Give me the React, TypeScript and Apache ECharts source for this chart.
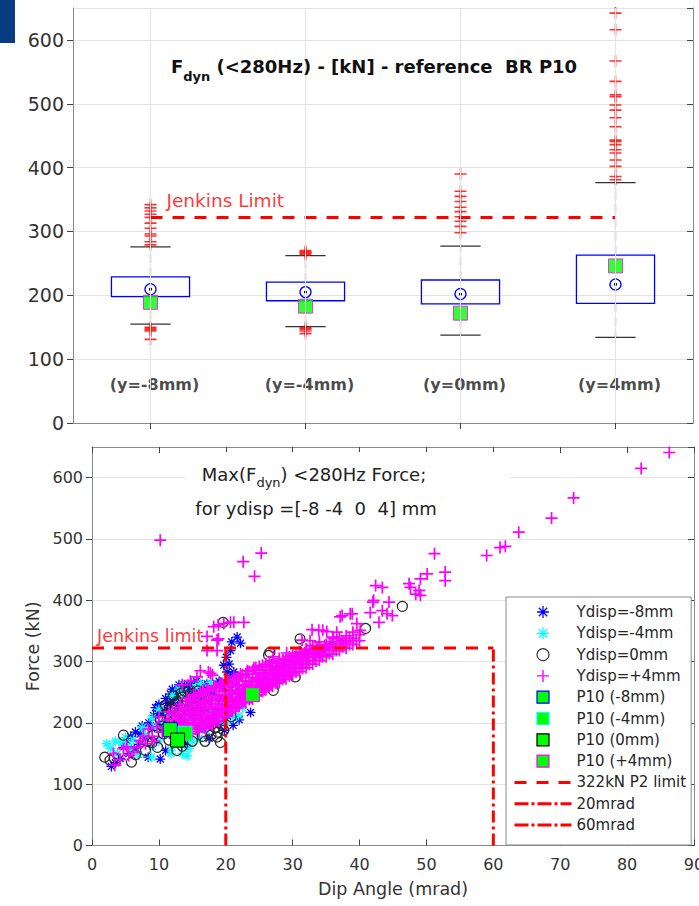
import React, { useEffect, useRef } from 'react';
import * as echarts from 'echarts';

const FONT = 'DejaVu Sans';

// ---------- Top panel (box plot) ----------
const positions = ['(y=-8mm)', '(y=-4mm)', '(y=0mm)', '(y=4mm)'];
const whiskerLow = [155, 151, 137.5, 134];
const boxQ1 = [198, 191.5, 186.5, 187.5];
const boxQ3 = [229, 220.5, 224, 263];
const whiskerHigh = [276, 262, 277, 376.5];
const medians = [209.5, 205, 202, 217];
const p10Values = [189, 183, 172, 246];
const outliersM8 = [342, 337, 332, 327, 322, 313, 305, 296, 293, 284, 279, 150, 148, 146, 144, 131];
const outliersM4 = [270, 268, 266, 264, 149, 147, 144, 140];
const outliers0 = [390, 363, 355, 347, 338, 331, 323, 316, 308, 298];
const outliersP4 = [642, 616, 567, 535, 514, 511, 498, 490, 478, 464, 443, 441, 436, 428, 423, 412, 402, 386, 381];
const jenkinsLimit = 322;

// ---------- Bottom panel (scatter) ----------
const ydispM8 = [
  [2.9, 129], [3.5, 135], [4.2, 142], [4.7, 160], [5.2, 171], [5.5, 150], [6.3, 158], [7.2, 182], [7, 165], [8.4, 144],
  [8, 175], [9.2, 212], [9, 190], [10.2, 141], [10, 198], [10.8, 220], [11.7, 247], [11.3, 232], [12.2, 238], [13.2, 256],
  [12.8, 228], [14, 250], [14.6, 258], [15.2, 252], [16, 258], [17, 252], [18, 248], [15.5, 238], [17.5, 236], [19, 240],
  [13.5, 205], [15, 212], [16.5, 218], [18.5, 222], [12, 180], [14, 165], [11, 155], [16, 190], [19.6, 258], [20.4, 269],
  [20.2, 283], [21.2, 283], [19.7, 294], [20.1, 307], [20.7, 318], [20.9, 332], [21.7, 340], [22.2, 330], [20.5, 296], [21.5, 262],
  [20.7, 274], [21.9, 274], [22.6, 245], [21.1, 196], [20.7, 212], [23.7, 217], [22, 205], [19.8, 188], [18.8, 200], [17.5, 175],
  [10.5, 215], [11.5, 225], [12.5, 245], [13.8, 262], [12, 255], [10, 230], [9.5, 225], [11, 240], [14.8, 265], [13, 262],
  [16.5, 262], [18.2, 260], [17.2, 264], [8.5, 200], [7.5, 195], [6.5, 185], [5.8, 178], [9.8, 215], [15.6, 268], [19, 268],
];
const ydispM4 = [
  [2.2, 166], [2.8, 158], [3.8, 150], [4.5, 168], [5.5, 160], [6.2, 172], [7, 148], [8.9, 144], [8, 180], [9.5, 192],
  [10, 170], [10.8, 200], [11.5, 215], [12.5, 222], [13, 240], [14, 248], [14.7, 226], [15.5, 258], [16.2, 264], [17.7, 266],
  [17, 255], [12, 160], [13.5, 150], [14.5, 158], [16, 175], [17, 188], [18, 198], [19, 206], [20, 200], [21.2, 209],
  [21.9, 212], [22.5, 225], [19.5, 232], [18, 218], [20.5, 245], [16, 235], [11, 185], [9, 162], [6, 152], [15, 170],
  [13, 255], [12, 245], [10, 222], [9, 208], [7.5, 192], [5, 176], [3.5, 170], [14.2, 146], [11.8, 150],
];
const ydisp0 = [
  [1.9, 144], [2.7, 139], [3.3, 143], [4.7, 180], [5.9, 136], [6.5, 148], [8, 155], [9, 168], [10.7, 182], [11.7, 209],
  [10.5, 195], [12, 222], [12.8, 235], [13.5, 242], [14.2, 236], [15, 248], [15.8, 252], [16.8, 250], [14.5, 222], [13, 200],
  [15.5, 215], [17, 228], [16, 205], [18.1, 199], [17.5, 188], [12.7, 155], [13.5, 162], [15, 170], [16.5, 178], [18.7, 177],
  [19.7, 188], [19.2, 168], [11.5, 172], [9.8, 160], [19.6, 364], [26.4, 310], [26.6, 315], [27.1, 253], [30.4, 275], [31.1, 337],
  [31.6, 299], [35.4, 318], [36.6, 332], [40.9, 354], [46.4, 390], [20.8, 210], [18.5, 238], [11, 228], [12.2, 244], [13.8, 252],
  [11.2, 215], [11.8, 225], [12.4, 232], [13, 218], [13.6, 228], [14.1, 212], [14.8, 240], [15.3, 228], [12.6, 210], [13.3, 248],
  [14.4, 254], [15.6, 240], [16.4, 232], [17.3, 240], [16.2, 222], [11.6, 198], [12.3, 205], [10.2, 205], [10.9, 190], [17.6, 200],
  [18.4, 192], [19, 205], [18.8, 185], [17.8, 180], [16.9, 170], [19.4, 196], [9.2, 180], [8.3, 170], [14.3, 180], [15.2, 190],
];
const ydispP4 = [
  // sparse lower-left tail
  [3.4, 131], [3.2, 150], [4.2, 140], [4.7, 158], [5.2, 161], [5.5, 147], [6.2, 152], [7.2, 171], [7.7, 178], [8, 166],
  [8.4, 190], [9.7, 194], [9, 178], [10.5, 185], [11.2, 205], [10, 210], [11.5, 218], [12, 196], [6.8, 160], [9.3, 170],
  // dense band
  [12, 178], [12, 193], [12, 206], [12, 219], [12.5, 186], [12.5, 200], [12.5, 214], [13, 182], [13, 197], [13, 211],
  [13, 225], [13.5, 190], [13.5, 204], [13.5, 219], [14, 185], [14, 200], [14, 215], [14, 230], [14.5, 192], [14.5, 207],
  [14.5, 222], [14.5, 236], [15, 183], [15, 197], [15, 211], [15, 225], [15, 239], [15.5, 190], [15.5, 204], [15.5, 218],
  [15.5, 232], [15.5, 245], [16, 186], [16, 201], [16, 215], [16, 229], [16, 243], [16.5, 194], [16.5, 208], [16.5, 222],
  [16.5, 236], [16.5, 249], [17, 191], [17, 205], [17, 218], [17, 233], [17, 247], [17.5, 198], [17.5, 212], [17.5, 226],
  [17.5, 240], [17.5, 253], [18, 196], [18, 210], [18, 225], [18, 238], [18, 252], [18.5, 203], [18.5, 217], [18.5, 231],
  [18.5, 245], [18.5, 257], [19, 203], [19, 216], [19, 230], [19, 244], [19, 258], [19.5, 210], [19.5, 223], [19.5, 237],
  [19.5, 251], [19.5, 263], [20, 211], [20, 222], [20, 235], [20, 246], [20, 258], [20, 268], [20.5, 216], [20.5, 228],
  [20.5, 240], [20.5, 252], [20.5, 264], [21, 219], [21, 230], [21, 242], [21, 254], [21, 266], [21.5, 224], [21.5, 236],
  [21.5, 248], [21.5, 260], [21.5, 272], [22, 227], [22, 238], [22, 250], [22, 262], [22, 274], [22.5, 233], [22.5, 244],
  [22.5, 256], [22.5, 268], [22.5, 278], [23, 233], [23, 244], [23, 256], [23, 268], [23, 280], [23.5, 238], [23.5, 250],
  [23.5, 262], [23.5, 274], [23.5, 284], [24, 239], [24, 250], [24, 262], [24, 274], [24, 286], [24.5, 244], [24.5, 256],
  [24.5, 268], [24.5, 280], [24.5, 290], [25, 246], [25, 258], [25, 270], [25, 282], [25, 292], [25.5, 251], [25.5, 263],
  [25.5, 275], [25.5, 286], [25.5, 294], [26, 254], [26, 265], [26, 276], [26, 287], [26, 296], [26.5, 259], [26.5, 270],
  [26.5, 281], [26.5, 291], [26.5, 299], [27, 260], [27, 271], [27, 282], [27, 293], [27, 301], [27.5, 265], [27.5, 276],
  [27.5, 287], [27.5, 297], [28, 266], [28, 277], [28, 288], [28, 298], [28, 305], [28.5, 271], [28.5, 282], [28.5, 293],
  [28.5, 302], [29, 272], [29, 283], [29, 294], [29, 304], [29.5, 277], [29.5, 288], [29.5, 299], [29.5, 308], [30, 278],
  [30, 289], [30, 300], [30, 310], [30.5, 283], [30.5, 294], [30.5, 305], [30.5, 313], [31, 284], [31, 295], [31, 306],
  [31, 315], [31.5, 289], [31.5, 300], [31.5, 311], [32, 290], [32, 301], [32, 312], [32, 320], [32.5, 296], [32.5, 307],
  [32.5, 317], [33, 296], [33, 307], [33, 318], [33, 326], [33.5, 301], [33.5, 312], [33.5, 322], [34, 302], [34, 313],
  [34, 324], [34, 332], [34.5, 308], [34.5, 319], [35, 308], [35, 318], [35, 328], [35.5, 313], [35.5, 324], [36, 312],
  [36, 322], [36, 332], [36, 340], [36.5, 318], [36.5, 328], [37, 318], [37, 328], [37, 338], [37.5, 324], [37.5, 334],
  [38, 322], [38, 332], [38, 342], [38.5, 328], [38.5, 338], [39, 328], [39, 338], [39, 348], [39.5, 334], [40, 334],
  [40, 344],
  // dense band, in-between marks
  [12.3, 188], [12.8, 207], [13.3, 194], [13.8, 214], [14.3, 196], [14.8, 218], [15.3, 200], [15.8, 222], [16.3, 205], [16.8, 227],
  [17.3, 209], [17.8, 231], [18.3, 214], [18.8, 236], [19.3, 220], [19.8, 241], [20.3, 226], [20.8, 247], [21.3, 233], [21.8, 253],
  [22.3, 240], [22.8, 260], [23.3, 247], [23.8, 266], [24.3, 253], [24.8, 272], [25.3, 260], [25.8, 279], [26.3, 266], [26.8, 285],
  [27.3, 272], [27.8, 290], [28.3, 278], [28.8, 296], [29.3, 284], [29.8, 302], [30.3, 290], [30.8, 308], [31.3, 296], [31.8, 314],
  [32.3, 302], [32.8, 318], [33.3, 308], [33.8, 322], [34.3, 314], [34.8, 326], [13.2, 230], [14.2, 240], [15.2, 246], [16.2, 250],
  [17.2, 255], [18.2, 260], [19.2, 262], [20.2, 270], [21.2, 276], [22.2, 280], [23.2, 285], [24.2, 290], [16.8, 192], [17.8, 200],
  [18.8, 208], [19.8, 215], [20.8, 222], [21.8, 230], [22.8, 236], [23.8, 242], [24.8, 250], [25.8, 256], [26.8, 262], [27.8, 270],
  [28.8, 276], [29.8, 282],
  // upper-left excursions
  [13.5, 262], [14.7, 268], [15.7, 275], [16.2, 285], [17.4, 283], [18, 278], [16.7, 254], [17.7, 281], [19.2, 265], [17.2, 318],
  [18.7, 318], [18.9, 337], [17.2, 341], [18.7, 335], [18.2, 357], [18.9, 360], [19.7, 362], [20.7, 364], [21.2, 364], [22.7, 364],
  [10.2, 498], [22.6, 463], [24.3, 439], [25.3, 477],
  // upper right
  [27.1, 308], [29.1, 314], [31.1, 316], [31.4, 335], [32.6, 334], [32.1, 320], [35.6, 329], [34.1, 310], [28.6, 302], [33.9, 351],
  [34.5, 351], [32.9, 352], [36.6, 348], [36.1, 338], [35.1, 349], [37.1, 373], [37.4, 375], [38.9, 378], [37.9, 334], [38.6, 378],
  [39.6, 362], [40.1, 351], [41.6, 380], [42.9, 364], [43.4, 383], [44.1, 378], [44.9, 375], [42, 397], [42.1, 400], [44.4, 397],
  [42.4, 424], [43.4, 421], [47.4, 427], [47.6, 421], [49.1, 435], [50.1, 443], [48.4, 410], [49.1, 408], [48.9, 416], [51.2, 476],
  [52.8, 446], [52.8, 432], [59, 473], [61, 486], [61.8, 488], [63.8, 511], [68.7, 534], [72, 567], [82.1, 615], [86.3, 641],
];
const p10Points = [[11.7, 189], [13.9, 183], [12.8, 172], [24, 246]];
const limitLine = [[0, 322], [60, 322]];
const mrad20Line = [[20, 0], [20, 322]];
const mrad60Line = [[60, 0], [60, 322]];

const axisGray = '#8a8a8a';
const labelColor = '#333333';
const gridColor = '#e4e4e4';

const PLUS = 'path://M5,0V10M0,5H10';
const STAR = 'path://M5,0V10M0,5H10M1.5,1.5L8.5,8.5M1.5,8.5L8.5,1.5';
const SQUARE = 'path://M0,0H10V10H0Z';
const CIRCLE = 'path://M10,5A5,5,0,1,1,0,5A5,5,0,1,1,10,5Z';

export default function App() {
  const ref = useRef<HTMLDivElement>(null);
  useEffect(() => {
    if (!ref.current) return;
    const chart = echarts.init(ref.current, null, { renderer: 'svg' });

    const boxData = positions.map((_, i) => [i, whiskerLow[i], boxQ1[i], boxQ3[i], whiskerHigh[i], medians[i]]);
    const outlierData: number[][] = [];
    [outliersM8, outliersM4, outliers0, outliersP4].forEach((arr, i) => arr.forEach((v) => outlierData.push([i, v])));

    const catAxis = (pos: 'bottom' | 'top') => ({
      type: 'category',
      gridIndex: 0,
      position: pos,
      data: positions,
      boundaryGap: true,
      axisLine: { show: true, lineStyle: { color: axisGray, width: 1 } },
      axisTick: { show: true, alignWithLabel: true, inside: true, length: 6, lineStyle: { color: '#444' } },
      axisLabel: { show: false },
      splitLine: { show: false },
    });
    const valAxisX = (pos: 'bottom' | 'top') => ({
      type: 'value',
      gridIndex: 1,
      position: pos,
      min: 0,
      max: 90,
      interval: 10,
      axisLine: { show: true, onZero: false, lineStyle: { color: axisGray, width: 1 } },
      axisTick: { show: true, inside: true, length: 6, lineStyle: { color: '#444' } },
      axisLabel: pos === 'bottom'
        ? { show: true, fontSize: 16, color: labelColor, margin: 11, fontFamily: FONT }
        : { show: false },
      splitLine: { show: false },
      ...(pos === 'bottom'
        ? {
            name: 'Dip Angle (mrad)',
            nameLocation: 'middle',
            nameGap: 34,
            nameTextStyle: { fontSize: 17.5, color: labelColor, fontFamily: FONT },
          }
        : {}),
    });
    const valAxisY = (grid: number, pos: 'left' | 'right', fontSize: number) => ({
      type: 'value',
      gridIndex: grid,
      position: pos,
      min: 0,
      max: 650,
      interval: 100,
      axisLine: { show: true, onZero: false, lineStyle: { color: axisGray, width: 1 } },
      axisTick: { show: true, inside: pos === 'right', length: 6, lineStyle: { color: '#444' } },
      axisLabel: pos === 'left'
        ? { show: true, fontSize, color: labelColor, margin: 9, fontFamily: FONT, showMaxLabel: false }
        : { show: false },
      splitLine: pos === 'left' ? { show: true, lineStyle: { color: gridColor, width: 1 } } : { show: false },
      ...(grid === 1 && pos === 'left'
        ? {
            name: 'Force (kN)',
            nameLocation: 'middle',
            nameGap: 46,
            nameTextStyle: { fontSize: 17.5, color: labelColor, fontFamily: FONT },
          }
        : {}),
    });

    const scatterBottom = (name: string, data: number[][], symbol: string, size: number, color: string, border: string, bw: number, z = 2) => ({
      name,
      type: 'scatter',
      xAxisIndex: 2,
      yAxisIndex: 2,
      data,
      symbol,
      symbolSize: size,
      itemStyle: { color, borderColor: border, borderWidth: bw, opacity: 1 },
      emphasis: { disabled: true },
      z,
    });

    const option: any = {
      animation: false,
      textStyle: { fontFamily: FONT },
      grid: [
        { left: 73, right: 6, top: 8, height: 415, show: false, containLabel: false, outerBoundsMode: 'none' },
        { left: 92, right: 5, top: 447, height: 398.5, show: false, containLabel: false, outerBoundsMode: 'none' },
      ],
      xAxis: [catAxis('bottom'), catAxis('top'), valAxisX('bottom'), valAxisX('top')],
      yAxis: [valAxisY(0, 'left', 19), valAxisY(0, 'right', 19), valAxisY(1, 'left', 16), valAxisY(1, 'right', 16)],
      legend: {
        orient: 'vertical',
        left: 506,
        top: 597,
        padding: [7, 5, 12, 7],
        itemGap: 5.3,
        itemWidth: 57,
        itemHeight: 12,
        backgroundColor: '#ffffff',
        borderColor: '#8a8a8a',
        borderWidth: 1,
        selectedMode: false,
        textStyle: { fontFamily: FONT, fontSize: 15, color: '#262626', lineHeight: 16 },
        data: [
          { name: 'Ydisp=-8mm', icon: STAR, itemStyle: { color: 'rgba(0,0,0,0)', borderColor: '#0000ff', borderWidth: 1.3 } },
          { name: 'Ydisp=-4mm', icon: STAR, itemStyle: { color: 'rgba(0,0,0,0)', borderColor: '#00ffff', borderWidth: 1.3 } },
          { name: 'Ydisp=0mm', icon: CIRCLE, itemStyle: { color: 'rgba(0,0,0,0)', borderColor: '#333333', borderWidth: 1.2 } },
          { name: 'Ydisp=+4mm', icon: PLUS, itemStyle: { color: 'rgba(0,0,0,0)', borderColor: '#ff00ff', borderWidth: 1.4 } },
          { name: 'P10 (-8mm)', icon: SQUARE, itemStyle: { color: '#00ff00', borderColor: '#0000ff', borderWidth: 1.2 } },
          { name: 'P10 (-4mm)', icon: SQUARE, itemStyle: { color: '#00ff00', borderColor: '#00ffff', borderWidth: 1.2 } },
          { name: 'P10 (0mm)', icon: SQUARE, itemStyle: { color: '#00ff00', borderColor: '#000000', borderWidth: 1.2 } },
          { name: 'P10 (+4mm)', icon: SQUARE, itemStyle: { color: '#00ff00', borderColor: '#ff00ff', borderWidth: 1.2 } },
          { name: '322kN P2 limit', itemStyle: { opacity: 0 }, lineStyle: { color: '#ff0000', width: 3, type: [12, 10] } },
          { name: '20mrad', itemStyle: { opacity: 0 }, lineStyle: { color: '#ff0000', width: 3, type: [14, 3, 3, 3] } },
          { name: '60mrad', itemStyle: { opacity: 0 }, lineStyle: { color: '#ff0000', width: 3, type: [14, 3, 3, 3] } },
        ],
      },
      graphic: [
        { type: 'rect', left: 0, top: 0, shape: { width: 15, height: 43 }, style: { fill: '#063d82' }, z: 20 },
        { type: 'rect', x: 163, y: 50, shape: { width: 425, height: 42 }, style: { fill: '#ffffff' }, z: 5 },
        {
          type: 'text',
          x: 374,
          y: 57,
          z: 6,
          style: {
            text: '{a|F}{s|dyn}{a| (<280Hz) - [kN] - reference  BR P10}',
            align: 'center',
            verticalAlign: 'top',
            fill: '#111',
            rich: {
              a: { fontFamily: FONT, fontSize: 18, fontWeight: 'bold', lineHeight: 20, verticalAlign: 'top', fill: '#111' },
              s: { fontFamily: FONT, fontSize: 13, fontWeight: 'bold', lineHeight: 20, verticalAlign: 'top', padding: [13, 0, 0, 0], fill: '#111' },
            },
          },
        },
        { type: 'rect', x: 185, y: 452, shape: { width: 325, height: 78 }, style: { fill: '#ffffff' }, z: 5 },
        {
          type: 'text',
          x: 314,
          y: 465,
          z: 6,
          style: {
            text: '{a|Max(F}{s|dyn}{a|) <280Hz Force;}',
            align: 'center',
            verticalAlign: 'top',
            fill: '#222',
            rich: {
              a: { fontFamily: FONT, fontSize: 18, lineHeight: 22, verticalAlign: 'top', fill: '#222' },
              s: { fontFamily: FONT, fontSize: 13, lineHeight: 22, verticalAlign: 'top', padding: [11, 0, 0, 0], fill: '#222' },
            },
          },
        },
        {
          type: 'text',
          x: 316,
          y: 508,
          z: 6,
          style: {
            text: 'for ydisp =[-8 -4  0  4] mm',
            align: 'center',
            verticalAlign: 'middle',
            fontFamily: FONT,
            fontSize: 18,
            fill: '#222',
          },
        },
      ],
      series: [
        // top: category labels + vertical grid lines
        {
          type: 'scatter',
          xAxisIndex: 0,
          yAxisIndex: 0,
          data: positions.map((_, i) => [i, 60]),
          symbolSize: 0,
          silent: true,
          z: 1,
          label: {
            show: true,
            position: 'inside',
            offset: [4, 0],
            formatter: (p: any) => positions[p.dataIndex],
            fontFamily: FONT,
            fontWeight: 'bold',
            fontSize: 16,
            color: '#1a1a1a',
          },
          markLine: {
            silent: true,
            symbol: ['none', 'none'],
            label: { show: false },
            lineStyle: { color: gridColor, type: 'solid', width: 1 },
            data: positions.map((_, i) => ({ xAxis: i })),
          },
        },
        {
          type: 'custom',
          xAxisIndex: 0,
          yAxisIndex: 0,
          data: boxData,
          encode: { x: 0, y: [1, 2, 3, 4, 5] },
          z: 2,
          renderItem: (params: any, api: any) => {
            const i = api.value(0);
            const band = api.size([1, 0])[0];
            const halfBox = band * 0.252;
            const halfCap = band * 0.13;
            const pLo = api.coord([i, api.value(1)]);
            const pQ1 = api.coord([i, api.value(2)]);
            const pQ3 = api.coord([i, api.value(3)]);
            const pHi = api.coord([i, api.value(4)]);
            const pMed = api.coord([i, api.value(5)]);
            const cx = pLo[0];
            const wh = { stroke: '#333', lineWidth: 1.2, lineDash: [9, 5] };
            const cap = { stroke: '#333', lineWidth: 1.3 };
            return {
              type: 'group',
              children: [
                { type: 'line', shape: { x1: cx, y1: pQ3[1], x2: cx, y2: pHi[1] }, style: wh },
                { type: 'line', shape: { x1: cx, y1: pQ1[1], x2: cx, y2: pLo[1] }, style: wh },
                { type: 'line', shape: { x1: cx - halfCap, y1: pHi[1], x2: cx + halfCap, y2: pHi[1] }, style: cap },
                { type: 'line', shape: { x1: cx - halfCap, y1: pLo[1], x2: cx + halfCap, y2: pLo[1] }, style: cap },
                {
                  type: 'rect',
                  shape: { x: cx - halfBox, y: pQ3[1], width: 2 * halfBox, height: pQ1[1] - pQ3[1] },
                  style: { fill: 'none', stroke: '#0000ff', lineWidth: 1.3 },
                },
                { type: 'circle', shape: { cx, cy: pMed[1], r: 5.5 }, style: { fill: 'none', stroke: '#0000ff', lineWidth: 1.3 } },
                { type: 'circle', shape: { cx, cy: pMed[1], r: 1.6 }, style: { fill: '#000' } },
              ],
            };
          },
        },
        {
          type: 'scatter',
          xAxisIndex: 0,
          yAxisIndex: 0,
          data: outlierData,
          symbol: PLUS,
          symbolSize: 12,
          itemStyle: { color: 'rgba(0,0,0,0)', borderColor: '#ff0000', borderWidth: 1.6 },
          z: 3,
        },
        {
          type: 'scatter',
          xAxisIndex: 0,
          yAxisIndex: 0,
          data: p10Values.map((v, i) => [i, v]),
          symbol: 'rect',
          symbolSize: 14,
          itemStyle: { color: '#00ff00', borderColor: '#ff00ff', borderWidth: 1 },
          z: 4,
        },
        {
          type: 'line',
          xAxisIndex: 0,
          yAxisIndex: 0,
          data: positions.map(() => jenkinsLimit),
          symbol: 'none',
          lineStyle: { color: '#ff0000', width: 3, type: [12, 10] },
          z: 4,
        },
        {
          type: 'scatter',
          xAxisIndex: 0,
          yAxisIndex: 0,
          data: [[0, 348]],
          symbolSize: 0,
          silent: true,
          label: {
            show: true,
            position: 'right',
            distance: 16,
            formatter: 'Jenkins Limit',
            fontFamily: FONT,
            fontSize: 18.5,
            color: '#ff0000',
          },
        },
        // bottom panel
        scatterBottom('Ydisp=-8mm', ydispM8, STAR, 10, 'rgba(0,0,0,0)', '#0000ff', 1.3),
        scatterBottom('Ydisp=-4mm', ydispM4, STAR, 10, 'rgba(0,0,0,0)', '#00ffff', 1.3),
        scatterBottom('Ydisp=0mm', ydisp0, 'circle', 10, 'rgba(0,0,0,0)', '#262626', 1.2),
        scatterBottom('Ydisp=+4mm', ydispP4, PLUS, 12, 'rgba(0,0,0,0)', '#ff00ff', 1.7),
        scatterBottom('P10 (-8mm)', [p10Points[0]], 'rect', 14, '#00ff00', '#0000ff', 1, 3),
        scatterBottom('P10 (-4mm)', [p10Points[1]], 'rect', 14, '#00ff00', '#00ffff', 1, 3),
        scatterBottom('P10 (0mm)', [p10Points[2]], 'rect', 14, '#00ff00', '#000000', 1, 3),
        scatterBottom('P10 (+4mm)', [p10Points[3]], 'rect', 14, '#00ff00', '#ff00ff', 1, 3),
        {
          name: '322kN P2 limit',
          type: 'line',
          xAxisIndex: 2,
          yAxisIndex: 2,
          data: limitLine,
          symbol: 'none',
          lineStyle: { color: '#ff0000', width: 3, type: [12, 10] },
          itemStyle: { color: '#ff0000' },
          z: 3,
        },
        {
          name: '20mrad',
          type: 'line',
          xAxisIndex: 2,
          yAxisIndex: 2,
          data: mrad20Line,
          symbol: 'none',
          lineStyle: { color: '#ff0000', width: 3, type: [12, 4, 3, 4] },
          itemStyle: { color: '#ff0000' },
          z: 3,
        },
        {
          name: '60mrad',
          type: 'line',
          xAxisIndex: 2,
          yAxisIndex: 2,
          data: mrad60Line,
          symbol: 'none',
          lineStyle: { color: '#ff0000', width: 3, type: [12, 4, 3, 4] },
          itemStyle: { color: '#ff0000' },
          z: 3,
        },
        {
          type: 'scatter',
          xAxisIndex: 2,
          yAxisIndex: 2,
          data: [[0, 341]],
          symbolSize: 0,
          silent: true,
          z: 3,
          label: {
            show: true,
            position: 'right',
            distance: 5,
            formatter: 'Jenkins limit',
            fontFamily: FONT,
            fontSize: 17.5,
            color: '#ff0000',
          },
        },
      ],
    };

    chart.setOption(option);
    return () => chart.dispose();
  }, []);

  return <div ref={ref} style={{ position: 'absolute', left: 0, top: 0, width: 699, height: 906, background: '#fff' }} />;
}
